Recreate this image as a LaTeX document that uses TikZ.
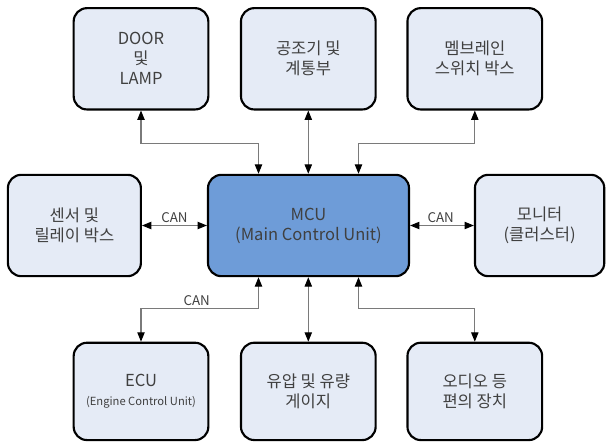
\documentclass[tikz,border=0pt]{standalone}
\usepackage{fontspec}
\setmainfont{Noto Sans CJK KR}
\usetikzlibrary{arrows.meta}
\definecolor{boxfill}{HTML}{E5EBF6}
\definecolor{mcufill}{HTML}{6E9CD8}
\definecolor{txt}{HTML}{404040}
\definecolor{wire}{HTML}{7A7A7A}
\tikzset{
  unit/.style={rectangle, rounded corners=10pt, draw=black, line width=1.6pt,
    fill=boxfill, text=txt, align=center, inner sep=0pt,
    minimum width=101pt, minimum height=76pt,
    font=\fontsize{12.4}{15}\selectfont},
  link/.style={draw=wire, line width=0.8pt,
    {Triangle[length=7pt,width=5.5pt,black]}-{Triangle[length=7pt,width=5.5pt,black]}},
  canlabel/.style={text=txt, font=\fontsize{10}{12}\selectfont, inner sep=0pt},
}
\begin{document}
\begin{tikzpicture}[x=0.75pt, y=-0.75pt]
\useasboundingbox (0,0) rectangle (606,443);

% top row
\node[unit] (door) at (141,58.8) {DOOR\\및\\LAMP};
\node[unit] (aircon) at (308.3,58.8) {공조기 및\\계통부};
\node[unit] (membrane) at (474.8,58.8) {멤브레인\\스위치 박스};

% middle row
\node[unit, minimum width=99.75pt] (sensor) at (74.4,225.5) {센서 및\\릴레이 박스};
\node[unit, minimum width=150.75pt, fill=mcufill] (mcu) at (308.5,225.5) {MCU\\(Main Control Unit)};
\node[unit, minimum width=97pt] (monitor) at (539.6,225.5) {모니터\\(클러스터)};

% bottom row
\node[unit, minimum height=73pt] (ecu) at (141,391.4)
  {ECU\\[-1pt]{\fontsize{8.4}{10}\selectfont (Engine Control Unit)}};
\node[unit, minimum height=73pt] (gauge) at (308.3,391.4) {유압 및 유량\\게이지};
\node[unit, minimum height=73pt] (audio) at (474.8,391.4) {오디오 등\\편의 장치};

% attachment points on the MCU
\coordinate (mtl) at ([xshift=-37.5pt]mcu.north);
\coordinate (mtr) at ([xshift=37.5pt]mcu.north);
\coordinate (mbl) at ([xshift=-37.5pt]mcu.south);
\coordinate (mbr) at ([xshift=37.5pt]mcu.south);

% connectors
\draw[link] (door.south) -- ++(0,33) -| (mtl);
\draw[link] (aircon.south) -- (mcu.north -| aircon.south);
\draw[link] (membrane.south) -- ++(0,33) -| (mtr);

\draw[link] (sensor.east) -- (mcu.west);
\draw[link] (mcu.east) -- (monitor.west);

\draw[link] (ecu.north) -- ++(0,-33.4) -| (mbl);
\draw[link] (gauge.north) -- (mcu.south -| gauge.north);
\draw[link] (audio.north) -- ++(0,-33.4) -| (mbr);

% bus labels
\node[canlabel] (can1) at (174.5,217.3) {CAN};
\node[canlabel] (can2) at (440.7,217.3) {CAN};
\node[canlabel] (can3) at (196.7,300.7) {CAN};
\end{tikzpicture}
\end{document}
